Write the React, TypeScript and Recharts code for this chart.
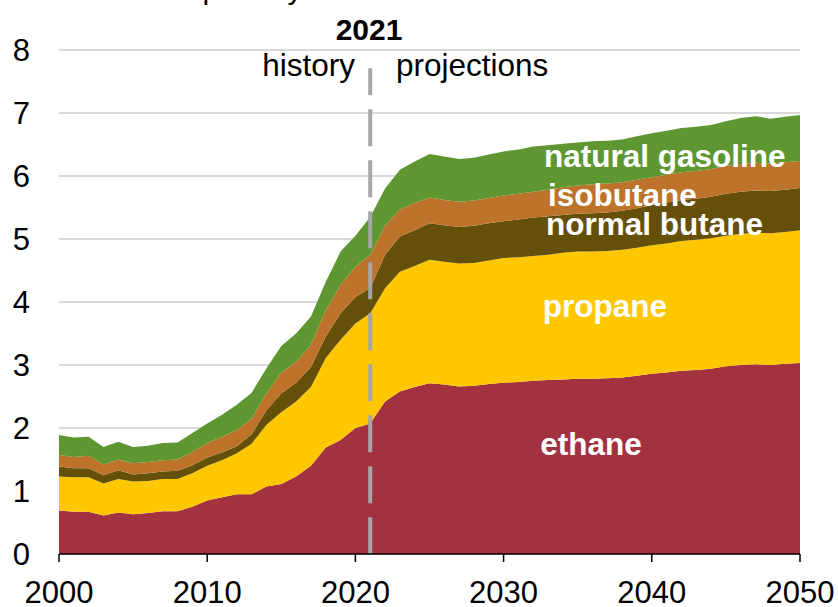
import React from 'react'
import {
  AreaChart,
  Area,
  XAxis,
  YAxis,
  CartesianGrid,
  ReferenceLine,
} from 'recharts'

const years = [
  2000, 2001, 2002, 2003, 2004, 2005, 2006, 2007, 2008, 2009,
  2010, 2011, 2012, 2013, 2014, 2015, 2016, 2017, 2018, 2019,
  2020, 2021, 2022, 2023, 2024, 2025, 2026, 2027, 2028, 2029,
  2030, 2031, 2032, 2033, 2034, 2035, 2036, 2037, 2038, 2039,
  2040, 2041, 2042, 2043, 2044, 2045, 2046, 2047, 2048, 2049, 2050,
]

// million barrels per day
const ethane = [
  0.69, 0.67, 0.67, 0.61, 0.66, 0.63, 0.65, 0.68, 0.68, 0.75,
  0.85, 0.9, 0.95, 0.95, 1.07, 1.11, 1.23, 1.4, 1.69, 1.81,
  2.0, 2.07, 2.42, 2.58, 2.65, 2.71, 2.69, 2.66, 2.67, 2.7,
  2.72, 2.73, 2.75, 2.76, 2.77, 2.78, 2.78, 2.79, 2.8, 2.83,
  2.86, 2.88, 2.91, 2.92, 2.94, 2.98, 3.0, 3.01, 3.0, 3.02, 3.03,
]
const propane = [
  0.54, 0.55, 0.55, 0.51, 0.53, 0.52, 0.51, 0.51, 0.51, 0.53,
  0.55, 0.59, 0.65, 0.8, 0.98, 1.14, 1.19, 1.25, 1.42, 1.59,
  1.66, 1.75, 1.8, 1.9, 1.92, 1.96, 1.95, 1.95, 1.95, 1.96,
  1.98, 1.98, 1.98, 1.99, 2.01, 2.02, 2.02, 2.02, 2.03, 2.03,
  2.04, 2.05, 2.06, 2.07, 2.07, 2.07, 2.08, 2.09, 2.09, 2.09, 2.11,
]
const normalButane = [
  0.16, 0.14, 0.14, 0.13, 0.14, 0.11, 0.12, 0.12, 0.13, 0.13,
  0.13, 0.12, 0.11, 0.15, 0.23, 0.3, 0.3, 0.32, 0.34, 0.42,
  0.42, 0.4, 0.53, 0.56, 0.57, 0.58, 0.58, 0.58, 0.59, 0.59,
  0.58, 0.6, 0.61, 0.61, 0.6, 0.6, 0.61, 0.61, 0.62, 0.63,
  0.64, 0.65, 0.65, 0.65, 0.66, 0.67, 0.67, 0.67, 0.67, 0.67, 0.67,
]
const isobutane = [
  0.18, 0.18, 0.2, 0.17, 0.17, 0.18, 0.18, 0.18, 0.18, 0.21,
  0.23, 0.25, 0.26, 0.25, 0.27, 0.33, 0.33, 0.35, 0.42, 0.45,
  0.48, 0.53, 0.46, 0.43, 0.43, 0.41, 0.4, 0.4, 0.4, 0.4,
  0.41, 0.41, 0.41, 0.42, 0.44, 0.45, 0.46, 0.46, 0.45, 0.45,
  0.44, 0.44, 0.44, 0.44, 0.44, 0.44, 0.44, 0.44, 0.44, 0.44, 0.43,
]
const naturalGasoline = [
  0.32, 0.31, 0.3, 0.28, 0.28, 0.26, 0.26, 0.27, 0.27, 0.3,
  0.31, 0.35, 0.4, 0.41, 0.4, 0.42, 0.45, 0.45, 0.45, 0.53,
  0.49, 0.6, 0.59, 0.63, 0.66, 0.69, 0.69, 0.68, 0.68, 0.69,
  0.7, 0.7, 0.72, 0.71, 0.69, 0.68, 0.68, 0.68, 0.68, 0.69,
  0.7, 0.7, 0.7, 0.7, 0.7, 0.71, 0.73, 0.74, 0.71, 0.72, 0.73,
]

const xTicks = [2000, 2010, 2020, 2030, 2040, 2050]
const yTicks = [0, 1, 2, 3, 4, 5, 6, 7, 8]

const data = years.map((year, i) => ({
  year,
  ethane: ethane[i],
  propane: propane[i],
  normalButane: normalButane[i],
  isobutane: isobutane[i],
  naturalGasoline: naturalGasoline[i],
}))

const FONT = '"Liberation Sans", Arial, sans-serif'

function XTick({ x, payload }: any) {
  return (
    <text x={x} y={603} textAnchor="middle" fontSize={31} fontFamily={FONT} fill="#000">
      {payload.value}
    </text>
  )
}

function YTick({ y, payload }: any) {
  return (
    <text x={30} y={y + 11} textAnchor="end" fontSize={31} fontFamily={FONT} fill="#000">
      {payload.value}
    </text>
  )
}

const seriesLabel = {
  fontFamily: FONT,
  fontSize: 31.5,
  fontWeight: 700,
  fill: '#fff',
}

export default function App() {
  return (
    <div style={{ position: 'relative', width: 838, height: 607 }}>
      <style>{'body{margin:0}'}</style>
      <AreaChart
        width={838}
        height={607}
        data={data}
        margin={{ top: 50, right: 38, bottom: 0, left: 0 }}
      >
        <CartesianGrid stroke="#d9d9d9" strokeWidth={2} vertical={false} />
        <XAxis
          dataKey="year"
          type="number"
          domain={[2000, 2050]}
          ticks={xTicks}
          height={53}
          tick={<XTick />}
          tickSize={8}
          axisLine={{ stroke: '#000', strokeWidth: 1.5 }}
          tickLine={{ stroke: '#000', strokeWidth: 1.5 }}
        />
        <YAxis
          domain={[0, 8]}
          ticks={yTicks}
          width={59}
          tick={<YTick />}
          axisLine={false}
          tickLine={false}
        />
        <Area type="linear" dataKey="ethane" stackId="1" stroke="none" fill="#A33241" fillOpacity={1} isAnimationActive={false} />
        <Area type="linear" dataKey="propane" stackId="1" stroke="none" fill="#FFC700" fillOpacity={1} isAnimationActive={false} />
        <Area type="linear" dataKey="normalButane" stackId="1" stroke="none" fill="#65500A" fillOpacity={1} isAnimationActive={false} />
        <Area type="linear" dataKey="isobutane" stackId="1" stroke="none" fill="#BD732A" fillOpacity={1} isAnimationActive={false} />
        <Area type="linear" dataKey="naturalGasoline" stackId="1" stroke="none" fill="#5E9732" fillOpacity={1} isAnimationActive={false} />
        <ReferenceLine
          segment={[{ x: 2021, y: 7.71 }, { x: 2021, y: 0 }]}
          stroke="#a6a6a6"
          strokeWidth={4}
          strokeDasharray="37 14"
          strokeDashoffset={10}
        />
      </AreaChart>
      <svg
        width={838}
        height={607}
        style={{ position: 'absolute', left: 0, top: 0, pointerEvents: 'none' }}
      >
        <text x={9} y={-1} fontSize={30} fontFamily={FONT} fill="#000">million barrels per day</text>
        <text x={369} y={40} textAnchor="middle" fontSize={30} fontWeight={700} fontFamily={FONT} fill="#000">2021</text>
        <text x={355} y={76} textAnchor="end" fontSize={31.5} fontFamily={FONT} fill="#000">history</text>
        <text x={396} y={76} fontSize={31.5} fontFamily={FONT} fill="#000">projections</text>
        <text x={544} y={167} {...seriesLabel}>natural gasoline</text>
        <text x={548} y={206} {...seriesLabel}>isobutane</text>
        <text x={546} y={235} {...seriesLabel}>normal butane</text>
        <text x={605} y={317} textAnchor="middle" {...seriesLabel}>propane</text>
        <text x={591} y={455} textAnchor="middle" {...seriesLabel}>ethane</text>
      </svg>
    </div>
  )
}
